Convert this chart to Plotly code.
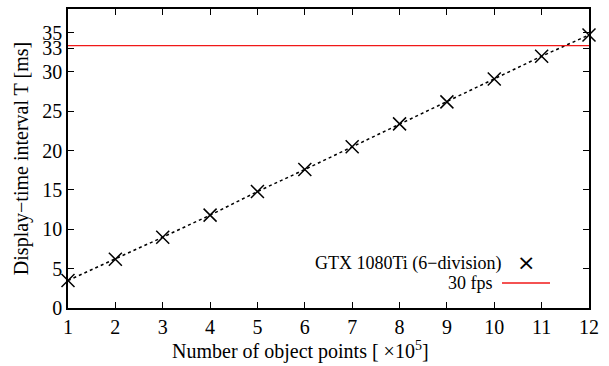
import plotly.graph_objects as go

points = [1, 2, 3, 4, 5, 6, 7, 8, 9, 10, 11, 12]
interval_ms = [3.5, 6.2, 9.0, 11.8, 14.8, 17.6, 20.5, 23.4, 26.2, 29.1, 32.0, 34.7]
fps30_ms = 1000 / 30
x_ticks = [1, 2, 3, 4, 5, 6, 7, 8, 9, 10, 11, 12]
y_ticks = [0, 5, 10, 15, 20, 25, 30, 33, 35]

font_family = "Liberation Serif"

fig = go.Figure()
fig.add_trace(go.Scatter(
    x=points, y=interval_ms, mode="lines+markers",
    line=dict(color="black", width=1.5, dash="dot"),
    marker=dict(symbol="x-thin-open", size=13, line=dict(color="black", width=1.5)),
    showlegend=False, cliponaxis=False,
))
fig.add_trace(go.Scatter(
    x=[1, 12], y=[fps30_ms, fps30_ms], mode="lines",
    line=dict(color="#f01818", width=1.3), showlegend=False,
))

W, H = 609, 366
L, R, T, B = 68, 20, 9, 58
pw, ph = W - L - R, H - T - B

def px(xp):
    return (xp - L) / pw

def py(yp):
    return 1 - (yp - T) / ph

# legend (gnuplot style: text then key)
fig.add_annotation(x=px(504), y=py(263), xref="paper", yref="paper",
                   text="GTX 1080Ti (6\u2212division)", showarrow=False,
                   xanchor="right", yanchor="middle",
                   font=dict(family=font_family, size=18, color="black"))
fig.add_annotation(x=px(526), y=py(262), xref="paper", yref="paper",
                   text="\u00d7", showarrow=False, xanchor="center", yanchor="middle",
                   font=dict(family="DejaVu Sans", size=22, color="black"))
fig.add_annotation(x=px(495), y=py(283), xref="paper", yref="paper",
                   text="30 fps", showarrow=False, xanchor="right", yanchor="middle",
                   font=dict(family=font_family, size=18, color="black"))
fig.add_shape(type="line", xref="paper", yref="paper",
              x0=px(502), x1=px(550), y0=py(283), y1=py(283),
              line=dict(color="#f01818", width=1.3))

# x-axis title (gnuplot places it slightly left of centre)
fig.add_annotation(x=px(300), y=py(350), xref="paper", yref="paper",
                   text="Number of object points [ \u00d710<sup>5</sup>]", showarrow=False,
                   xanchor="center", yanchor="middle",
                   font=dict(family=font_family, size=20, color="black"))

axis_common = dict(
    showline=True, linecolor="black", linewidth=1.5, mirror="ticks",
    ticks="inside", ticklen=6, tickwidth=1.2, tickcolor="black",
    showgrid=False, zeroline=False, automargin=False,
    tickfont=dict(family=font_family, size=20, color="black"),
)

fig.update_layout(
    width=W, height=H,
    margin=dict(l=L, r=R, t=T, b=B),
    paper_bgcolor="white", plot_bgcolor="white",
    xaxis=dict(range=[1, 12], tickvals=x_ticks, **axis_common),
    yaxis=dict(range=[0, 38], tickvals=y_ticks, ticklabelstandoff=0,
               title=dict(text="Display\u2212time interval T [ms]",
                          font=dict(family=font_family, size=20, color="black"),
                          standoff=8),
               **axis_common),
)

fig.write_html("out.html", config={"displayModeBar": False},
               post_script="document.body.style.margin='0';document.body.style.overflow='hidden';")
